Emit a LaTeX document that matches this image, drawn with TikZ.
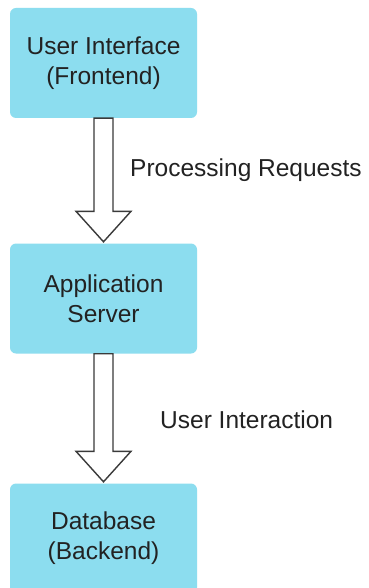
\documentclass[tikz,border=0pt]{standalone}
\usepackage{fontspec}
\setmainfont{Liberation Sans}
\usetikzlibrary{calc}
\definecolor{boxfill}{HTML}{8CDDEF}
\definecolor{inktext}{HTML}{222222}
\definecolor{arrowline}{HTML}{3A3A3A}
\tikzset{
  tier/.style={fill=boxfill, draw=none, rounded corners=6pt,
    minimum width=187pt, minimum height=110pt, inner sep=0pt,
    align=center, text=inktext, font=\fontsize{24.5}{30}\selectfont},
  flowlabel/.style={anchor=west, inner sep=0pt, text=inktext,
    font=\fontsize{24.5}{30}\selectfont},
  blockarrow/.style={draw=arrowline, fill=white, line width=1.4pt, line join=miter}
}
% hollow block arrow from the bottom of one box to the top of the next
\newcommand\tierarrow[2]{%
  \draw[blockarrow]
    ($(#1.south)+(-9.5,0)$) -- ($(#1.south)+(9.5,0)$)
    -- ($(#2.north)+(9.5,-32)$) -- ($(#2.north)+(27.5,-32)$)
    -- ($(#2.north)+(0,-1.5)$)
    -- ($(#2.north)+(-27.5,-32)$) -- ($(#2.north)+(-9.5,-32)$) -- cycle;}
\begin{document}
\begin{tikzpicture}[x=1pt,y=-1pt]
  \clip (0,0) rectangle (368,588);
  \fill[white] (0,0) rectangle (368,588);

  \node[tier] (ui)  at (103.5,63)   {User Interface\\(Frontend)};
  \node[tier] (app) at (103.5,298.5) {Application\\Server};
  \node[tier] (db)  at (103.5,538.5) {Database\\(Backend)};

  \tierarrow{ui}{app}
  \tierarrow{app}{db}

  \node[flowlabel] (lblreq) at (130,170) {Processing Requests};
  \node[flowlabel] (lblint) at (160,420) {User Interaction};
\end{tikzpicture}
\end{document}
